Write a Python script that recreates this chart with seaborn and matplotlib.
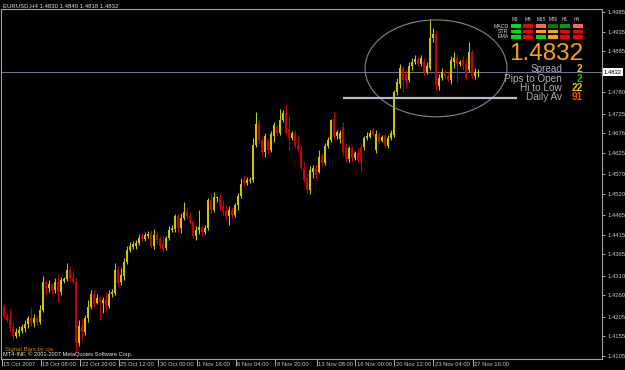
import numpy as np
import pandas as pd
import matplotlib
matplotlib.use("Agg")
import matplotlib.pyplot as plt
import seaborn as sns
from matplotlib.patches import Ellipse, Rectangle
from matplotlib import transforms

# ---------------- data (EURUSD H4) ----------------
opens = [1.4230,1.4207,1.4199,1.4178,1.4156,1.4164,1.4169,1.4177,1.4186,1.4202,
         1.4189,1.4202,1.4192,1.4222,1.4294,1.4279,1.4289,1.4274,1.4294,1.4268,
         1.4297,1.4302,1.4325,1.4304,1.4294,1.4138,1.4182,1.4166,1.4202,1.4230,
         1.4263,1.4240,1.4253,1.4240,1.4248,1.4233,1.4263,1.4266,1.4325,1.4294,
         1.4310,1.4345,1.4376,1.4384,1.4386,1.4394,1.4412,1.4404,1.4412,1.4420,
         1.4386,1.4414,1.4404,1.4391,1.4381,1.4407,1.4427,1.4430,1.4463,1.4432,
         1.4458,1.4473,1.4463,1.4448,1.4412,1.4427,1.4435,1.4422,1.4432,1.4504,
         1.4478,1.4509,1.4509,1.4489,1.4476,1.4463,1.4478,1.4466,1.4491,1.4514,
         1.4555,1.4548,1.4553,1.4555,1.4645,1.4699,1.4658,1.4627,1.4658,1.4632,
         1.4668,1.4690,1.4676,1.4709,1.4727,1.4686,1.4663,1.4676,1.4645,1.4632,
         1.4586,1.4560,1.4530,1.4576,1.4586,1.4576,1.4617,1.4599,1.4642,1.4658,
         1.4712,1.4668,1.4660,1.4692,1.4640,1.4609,1.4637,1.4612,1.4624,1.4640,
         1.4640,1.4663,1.4666,1.4686,1.4632,1.4673,1.4655,1.4668,1.4642,1.4663,
         1.4670,1.4780,1.4801,1.4842,1.4826,1.4811,1.4847,1.4857,1.4865,1.4852,
         1.4857,1.4832,1.4842,1.4919,1.4929,1.4796,1.4816,1.4832,1.4821,1.4811,
         1.4857,1.4867,1.4852,1.4862,1.4852,1.4837,1.4883,1.4821,1.4830]
highs = [1.4238,1.4214,1.4225,1.4192,1.4176,1.4182,1.4187,1.4197,1.4207,1.4228,
         1.4212,1.4210,1.4235,1.4310,1.4299,1.4299,1.4292,1.4304,1.4315,1.4307,
         1.4307,1.4343,1.4335,1.4325,1.4304,1.4197,1.4202,1.4210,1.4248,1.4274,
         1.4274,1.4263,1.4258,1.4256,1.4269,1.4274,1.4276,1.4343,1.4335,1.4330,
         1.4356,1.4386,1.4396,1.4399,1.4402,1.4417,1.4420,1.4422,1.4425,1.4427,
         1.4430,1.4422,1.4412,1.4414,1.4412,1.4437,1.4440,1.4468,1.4471,1.4471,
         1.4499,1.4484,1.4473,1.4453,1.4437,1.4478,1.4440,1.4440,1.4509,1.4522,
         1.4524,1.4514,1.4519,1.4504,1.4491,1.4489,1.4486,1.4496,1.4522,1.4560,
         1.4568,1.4563,1.4563,1.4663,1.4729,1.4709,1.4663,1.4676,1.4663,1.4681,
         1.4704,1.4698,1.4737,1.4734,1.4750,1.4722,1.4681,1.4683,1.4668,1.4645,
         1.4601,1.4573,1.4591,1.4594,1.4594,1.4632,1.4624,1.4650,1.4665,1.4711,
         1.4729,1.4683,1.4683,1.4704,1.4647,1.4642,1.4642,1.4630,1.4637,1.4648,
         1.4668,1.4678,1.4683,1.4691,1.4683,1.4678,1.4670,1.4673,1.4670,1.4683,
         1.4786,1.4816,1.4852,1.4847,1.4837,1.4857,1.4867,1.4875,1.4873,1.4875,
         1.4867,1.4857,1.4967,1.4944,1.4939,1.4827,1.4842,1.4837,1.4832,1.4873,
         1.4883,1.4878,1.4862,1.4873,1.4867,1.4909,1.4888,1.4842,1.4840]
lows = [1.4202,1.4192,1.4168,1.4146,1.4151,1.4156,1.4163,1.4166,1.4176,1.4182,
        1.4179,1.4184,1.4187,1.4217,1.4263,1.4268,1.4263,1.4266,1.4243,1.4261,
        1.4292,1.4297,1.4297,1.4289,1.4115,1.4130,1.4146,1.4158,1.4192,1.4225,
        1.4230,1.4238,1.4197,1.4214,1.4217,1.4228,1.4256,1.4261,1.4284,1.4286,
        1.4299,1.4340,1.4371,1.4379,1.4379,1.4389,1.4399,1.4399,1.4407,1.4381,
        1.4379,1.4391,1.4381,1.4371,1.4376,1.4402,1.4422,1.4422,1.4422,1.4419,
        1.4453,1.4455,1.4443,1.4407,1.4402,1.4417,1.4412,1.4417,1.4427,1.4471,
        1.4473,1.4499,1.4478,1.4466,1.4453,1.4440,1.4458,1.4460,1.4478,1.4509,
        1.4540,1.4542,1.4548,1.4550,1.4640,1.4650,1.4619,1.4614,1.4622,1.4627,
        1.4652,1.4670,1.4670,1.4704,1.4670,1.4632,1.4658,1.4637,1.4627,1.4581,
        1.4550,1.4522,1.4519,1.4560,1.4560,1.4572,1.4591,1.4594,1.4637,1.4653,
        1.4660,1.4660,1.4650,1.4619,1.4601,1.4601,1.4604,1.4606,1.4599,1.4576,
        1.4632,1.4658,1.4663,1.4668,1.4624,1.4647,1.4652,1.4637,1.4637,1.4658,
        1.4665,1.4773,1.4791,1.4780,1.4791,1.4806,1.4837,1.4852,1.4847,1.4847,
        1.4824,1.4827,1.4837,1.4909,1.4786,1.4786,1.4811,1.4814,1.4806,1.4801,
        1.4842,1.4806,1.4847,1.4837,1.4811,1.4832,1.4816,1.4814,1.4818]
closes = [1.4207,1.4197,1.4176,1.4156,1.4166,1.4171,1.4179,1.4187,1.4202,1.4189,
          1.4202,1.4192,1.4222,1.4294,1.4279,1.4289,1.4274,1.4294,1.4268,1.4299,
          1.4302,1.4325,1.4304,1.4294,1.4138,1.4182,1.4166,1.4202,1.4230,1.4263,
          1.4238,1.4253,1.4243,1.4248,1.4233,1.4263,1.4268,1.4325,1.4292,1.4312,
          1.4345,1.4376,1.4386,1.4391,1.4394,1.4407,1.4404,1.4414,1.4417,1.4386,
          1.4414,1.4402,1.4386,1.4379,1.4407,1.4427,1.4432,1.4463,1.4432,1.4458,
          1.4473,1.4463,1.4448,1.4412,1.4427,1.4435,1.4422,1.4432,1.4504,1.4478,
          1.4512,1.4512,1.4489,1.4473,1.4463,1.4478,1.4466,1.4491,1.4514,1.4545,
          1.4548,1.4555,1.4555,1.4645,1.4699,1.4658,1.4627,1.4668,1.4632,1.4673,
          1.4696,1.4676,1.4709,1.4727,1.4676,1.4663,1.4676,1.4642,1.4632,1.4586,
          1.4555,1.4530,1.4581,1.4586,1.4568,1.4614,1.4599,1.4642,1.4658,1.4709,
          1.4668,1.4678,1.4676,1.4627,1.4608,1.4637,1.4612,1.4624,1.4606,1.4604,
          1.4663,1.4668,1.4676,1.4673,1.4673,1.4652,1.4666,1.4642,1.4663,1.4676,
          1.4780,1.4806,1.4842,1.4811,1.4806,1.4847,1.4857,1.4865,1.4852,1.4867,
          1.4832,1.4847,1.4919,1.4929,1.4801,1.4816,1.4832,1.4821,1.4811,1.4862,
          1.4867,1.4852,1.4857,1.4847,1.4816,1.4883,1.4821,1.4832,1.4832]

time_labels = ["15 Oct 2007", "18 Oct 08:00", "22 Oct 20:00", "25 Oct 12:00",
               "30 Oct 00:00", "1 Nov 16:00", "6 Nov 04:00", "8 Nov 20:00",
               "13 Nov 08:00", "16 Nov 00:00", "20 Nov 12:00", "23 Nov 04:00",
               "27 Nov 16:00"]
time_label_bars = [-0.8, 12.2, 25.3, 38.2, 51.4, 64.2, 77.2, 90.3, 104.2, 117.0,
                   130.1, 143.1, 156.2]
price_ticks = [1.4985, 1.4935, 1.4885, 1.4780, 1.4725, 1.4676, 1.4625, 1.4570,
               1.4520, 1.4465, 1.4415, 1.4365, 1.4310, 1.4260, 1.4205, 1.4155,
               1.4105]

title_text = "EURUSD,H4 1.4830 1.4840 1.4818 1.4832"
bid = 1.4832
timeframes = ["M1", "M5", "M15", "M30", "H1", "H4"]
signal_rows = ["MACD", "STR", "EMA"]
signal_colors = [["#00e000", "#f00000", "#ff6a4a", "#007a00", "#00a000", "#ff6a4a"],
                 ["#00e000", "#f00000", "#ffa500", "#ffa500", "#f00000", "#f00000"],
                 ["#00e000", "#f00000", "#00e000", "#ffa500", "#f00000", "#f00000"]]
info_labels = ["Spread", "Pips to Open", "Hi to Low", "Daily Av"]
info_values = ["2", "2", "22", "91"]
info_colors = ["#e8c800", "#00c800", "#e8c800", "#ff4a00"]

df = pd.DataFrame({"open": opens, "high": highs, "low": lows, "close": closes})
df["bar"] = np.arange(len(df))
df["bull"] = df["close"] >= df["open"]

# ---------------- style ----------------
sns.set_theme(style="dark", rc={
    "figure.facecolor": "black", "axes.facecolor": "black",
    "axes.edgecolor": "#a0a0a0", "text.color": "#d0d0d0",
    "xtick.color": "#c8c8c8", "ytick.color": "#c8c8c8",
    "axes.grid": False,
})
plt.rcParams["font.family"] = ["Liberation Sans", "DejaVu Sans"]

W, H = 625, 370
fig = plt.figure(figsize=(W / 100, H / 100), dpi=100)
fig.patch.set_facecolor("black")
L, R, T, B = 1.5, 602, 9, 359
ax = fig.add_axes([L / W, 1 - B / H, (R - L) / W, (B - T) / H])
ax.set_facecolor("black")

BULL, BEAR = "#c8c800", "#cc0000"
cols = np.where(df["bull"], BULL, BEAR)

# wicks
ax.vlines(df["bar"], df["low"], df["high"], colors=cols, lw=0.75, zorder=3)
# bodies
body_lo = np.minimum(df["open"], df["close"])
body_h = np.maximum(np.abs(df["close"] - df["open"]), 0.00026)
ax.bar(df["bar"], body_h, bottom=body_lo, width=0.68, color=cols,
       linewidth=0, zorder=4)

# bid line
ax.axhline(bid, color="#6a7a8c", lw=0.75, zorder=2)

# user objects: ellipse and horizontal line
ax.add_patch(Ellipse((144, 1.4841), 47.3, 0.0248, fill=False,
                     edgecolor="#7a8898", lw=0.8, zorder=5))
ax.hlines(1.4766, 113, 171, color="#b4bcc8", lw=1.6, zorder=5)

ax.set_xlim(-0.83, 199.33)
ax.set_ylim(1.4097, 1.4993)

for s in ax.spines.values():
    s.set_color("#a0a0a0")
    s.set_linewidth(0.8)

# right price axis
ax.yaxis.tick_right()
ax.set_yticks(price_ticks)
ax.set_yticklabels([f"{v:.4f}" for v in price_ticks])
ax.tick_params(axis="y", which="both", direction="out", length=2.5, width=0.6,
               pad=1.2, labelsize=4.2, colors="#c8c8c8", left=False, right=True)

# time axis
ax.set_xticks(time_label_bars)
ax.set_xticklabels(time_labels, ha="left")
ax.tick_params(axis="x", direction="out", length=5, width=0.6, pad=-3.0,
               labelsize=4.2, colors="#c8c8c8", bottom=True)
off = transforms.ScaledTranslation(1.8 / 100, 0, fig.dpi_scale_trans)
for lab in ax.get_xticklabels():
    lab.set_transform(lab.get_transform() + off)


def P(x, y):
    return x / W, 1 - y / H


# price box on axis
fig.text(*P(604, 72), f"{bid:.4f}", fontsize=4.2, color="black", ha="left",
         va="center", bbox=dict(facecolor="white", edgecolor="none", pad=0.9))

# title
fig.text(*P(3, 6), title_text, fontsize=4.3, color="#e0e0e0", ha="left",
         va="center")

# bottom texts
fig.text(*P(5, 349.5), "Signal Bars by cja", fontsize=4.3, color="#c88400",
         ha="left", va="center")
fig.text(*P(3, 354.5), "MT4-INF, \u00a9 2001-2007 MetaQuotes Software Corp.",
         fontsize=4.1, color="#e8e8e8", ha="left", va="center")

# signal panel
box_x0, box_pitch, box_w, box_h = 511, 12.35, 10, 3.5
row_y = [24.3, 29.6, 35.0]
for j, tf in enumerate(timeframes):
    fig.text(*P(box_x0 + j * box_pitch + 1, 19.5), tf, fontsize=3.4,
             color="#d8d8d8", ha="left", va="center")
for r, name in enumerate(signal_rows):
    fig.text(*P(508.5, row_y[r] + 1.8), name, fontsize=3.8, color="#d8d8d8",
             ha="right", va="center")
    for j in range(len(timeframes)):
        x0 = box_x0 + j * box_pitch
        fig.add_artist(Rectangle(((x0) / W, 1 - (row_y[r] + box_h) / H),
                                 box_w / W, box_h / H, transform=fig.transFigure,
                                 facecolor=signal_colors[r][j], edgecolor="none"))

fig.text(*P(583, 59.5), f"{bid:.4f}", fontsize=17.5, color="#f5a21a",
         ha="right", va="baseline")

base_y = [72.3, 81.6, 90.9, 100.2]
for k in range(len(info_labels)):
    fig.text(*P(562, base_y[k]), info_labels[k], fontsize=7.2, color="#b0b0b0",
             ha="right", va="baseline")
    fig.text(*P(582.5, base_y[k]), info_values[k], fontsize=7.2,
             color=info_colors[k], ha="right", va="baseline", fontweight="bold")

fig.savefig("out.png", dpi=100, facecolor="black")
